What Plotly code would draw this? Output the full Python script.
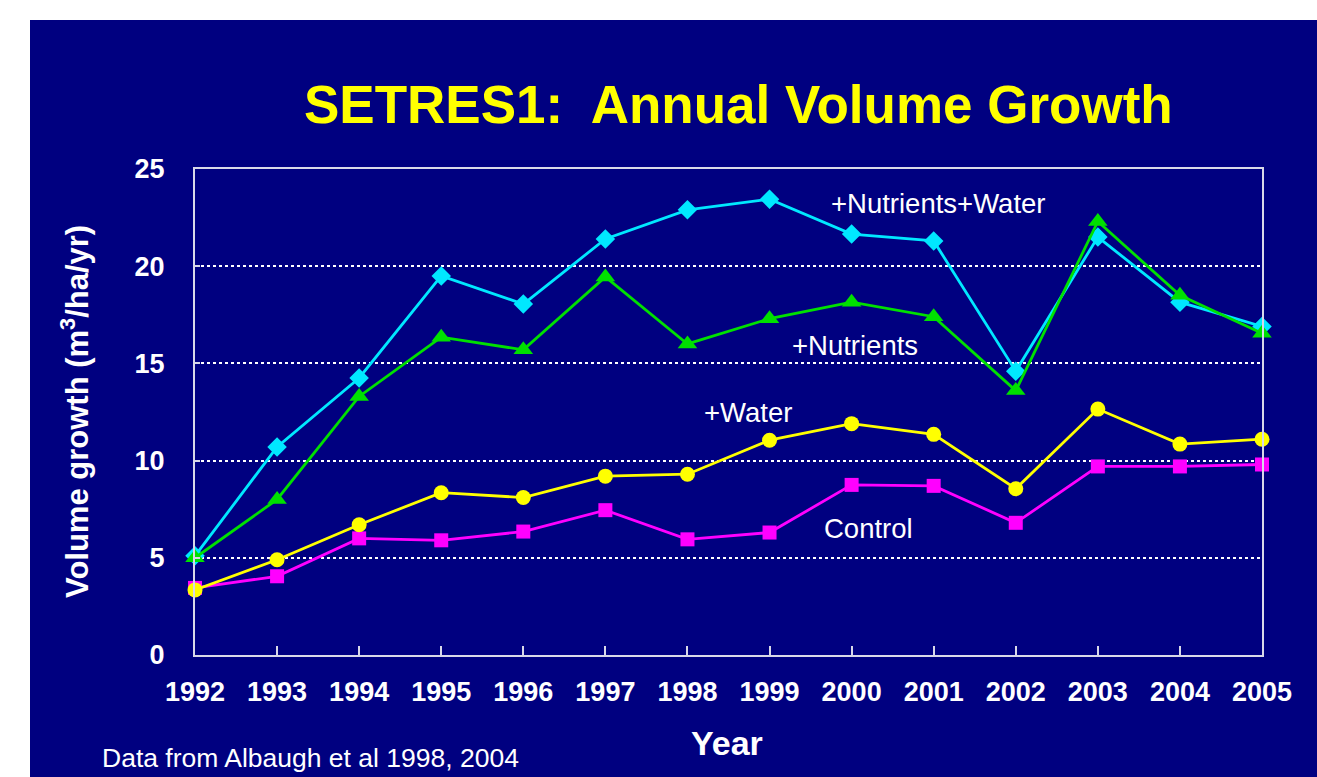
import plotly.graph_objects as go

years = list(range(1992, 2006))
nutrients_water = [5.1, 10.7, 14.25, 19.5, 18.05, 21.4, 22.9, 23.45, 21.65, 21.3, 14.6, 21.5, 18.15, 16.9]
nutrients = [5.0, 8.0, 13.3, 16.35, 15.7, 19.45, 16.0, 17.3, 18.15, 17.4, 13.6, 22.3, 18.5, 16.55]
water = [3.35, 4.9, 6.7, 8.35, 8.1, 9.2, 9.3, 11.05, 11.9, 11.35, 8.55, 12.65, 10.85, 11.1]
control = [3.45, 4.05, 6.0, 5.9, 6.35, 7.45, 5.95, 6.3, 8.75, 8.7, 6.8, 9.7, 9.7, 9.8]

series_names = ["+Nutrients+Water", "+Nutrients", "+Water", "Control"]
label_x = [2001.05, 2000.04, 1998.74, 2000.2]
label_y = [23.2, 15.9, 12.5, 6.53]
y_ticks = [0, 5, 10, 15, 20, 25]

FONT = "Liberation Sans, Arial, sans-serif"
NAVY = "#000080"

fig = go.Figure()

styles = [
    (nutrients_water, series_names[0], "#00E8FF", "diamond", 15),
    (nutrients, series_names[1], "#00E000", "triangle-up", 17),
    (control, series_names[3], "#FF00FF", "square", 14),
    (water, series_names[2], "#FFFF00", "circle", 15),
]
for vals, name, col, sym, sz in styles:
    fig.add_trace(go.Scatter(
        x=years, y=vals, mode="lines+markers", name=name,
        line=dict(color=col, width=2.8),
        marker=dict(symbol=sym, size=sz, color=col, line=dict(width=0)),
        cliponaxis=False, showlegend=False,
    ))

W, H = 1317, 777
L, R, T, B = 195, 55, 169, 122
pw, ph = W - L - R, H - T - B

def px_x(px):
    return (px - L) / pw

def px_y(py):
    return (H - B - py) / ph

shapes = [
    dict(type="rect", xref="paper", yref="paper", x0=px_x(-5), x1=px_x(30), y0=px_y(H + 5), y1=px_y(-5),
         fillcolor="white", line=dict(width=0), layer="below"),
    dict(type="rect", xref="paper", yref="paper", x0=px_x(-5), x1=px_x(W + 50), y0=px_y(20), y1=px_y(-5),
         fillcolor="white", line=dict(width=0), layer="below"),
]

annotations = [
    dict(text="<b>SETRES1:  Annual Volume Growth</b>", xref="paper", yref="paper",
         x=px_x(738), y=px_y(104), showarrow=False, xanchor="center", yanchor="middle",
         font=dict(family=FONT, size=53, color="#FFFF00")),
    dict(text="<b>Volume growth (m<sup>3</sup>/ha/yr)</b>", xref="paper", yref="paper",
         x=px_x(75), y=px_y(412), textangle=-90, showarrow=False, xanchor="center", yanchor="middle",
         font=dict(family=FONT, size=31, color="white")),
    dict(text="<b>Year</b>", xref="paper", yref="paper",
         x=px_x(727), y=px_y(743), showarrow=False, xanchor="center", yanchor="middle",
         font=dict(family=FONT, size=34, color="white")),
    dict(text="Data from Albaugh et al 1998, 2004", xref="paper", yref="paper",
         x=px_x(100), y=px_y(758), showarrow=False, xanchor="left", yanchor="middle",
         font=dict(family=FONT, size=26.5, color="white")),
]
for name, lx, ly in zip(series_names, label_x, label_y):
    annotations.append(dict(text=name, x=lx, y=ly, xref="x", yref="y", showarrow=False,
                            xanchor="center", yanchor="middle",
                            font=dict(family=FONT, size=27.5, color="white")))

fig.update_layout(
    width=W, height=H,
    margin=dict(l=L, r=R, t=T, b=B, autoexpand=False),
    paper_bgcolor=NAVY, plot_bgcolor=NAVY,
    shapes=shapes, annotations=annotations,
    font=dict(family=FONT, color="white"),
    xaxis=dict(range=[1992, 2005], tickmode="array", tickvals=years, ticktext=[str(y) for y in years],
               showgrid=False, zeroline=False, showline=True, linecolor="#D8D8E8", linewidth=2,
               mirror=True, ticks="inside", ticklen=9, tickwidth=1.5, tickcolor="#D8D8E8",
               tickfont=dict(family=FONT, size=27, color="white", weight="bold"), ticklabelstandoff=12),
    yaxis=dict(range=[0, 25], tickmode="array", tickvals=y_ticks,
               showgrid=True, gridcolor="white", griddash="dot", gridwidth=1.5,
               zeroline=False, showline=True, linecolor="#D8D8E8", linewidth=2,
               mirror=True, ticks="inside", ticklen=5, tickwidth=1.5, tickcolor="#D8D8E8",
               tickfont=dict(family=FONT, size=27, color="white", weight="bold"), ticklabelstandoff=23),
)

fig.write_html(
    "out.html", config={"displayModeBar": False},
    post_script=(
        "document.body.style.margin='0';document.body.style.overflow='hidden';"
        "document.documentElement.style.overflow='hidden';"
        "document.body.style.background='linear-gradient(to bottom, white 0px, white 20px, #000080 20px)';"
    ),
)
